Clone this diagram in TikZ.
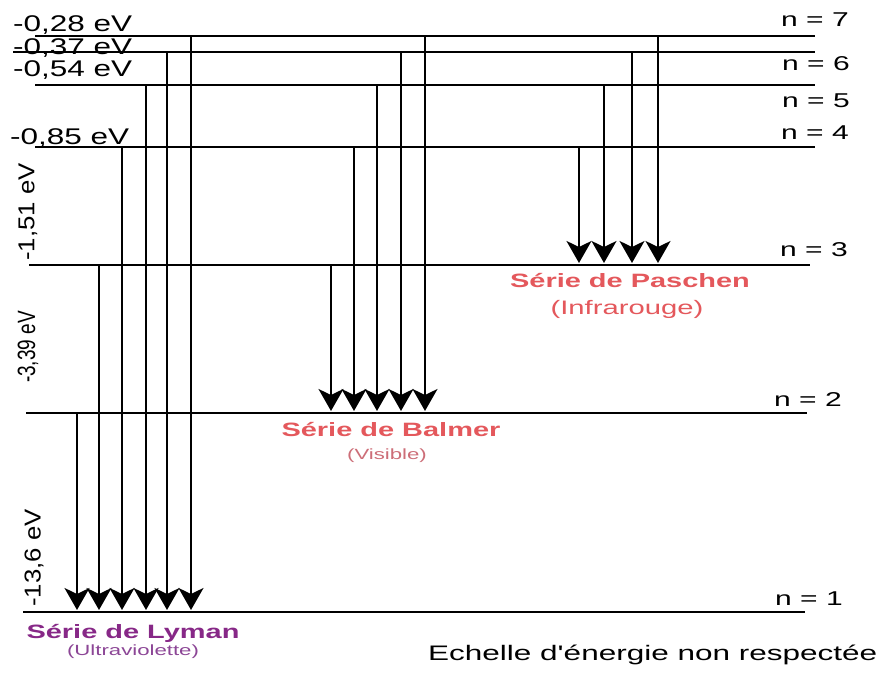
\documentclass[tikz,border=0pt]{standalone}
\usepackage{fontspec}
\usepackage{graphicx}
\setmainfont{Liberation Sans}
\newfontfamily\lab[FakeStretch=1.5]{Liberation Sans}
\usetikzlibrary{arrows.meta}
\definecolor{salmon}{RGB}{228,88,92}
\definecolor{salmonlt}{RGB}{205,110,120}
\definecolor{lymc}{RGB}{135,40,135}
\definecolor{lymlt}{RGB}{140,70,150}
\begin{document}
\begin{tikzpicture}[x=1pt,y=-1pt,
  level/.style={line width=1.8pt},
  trans/.style={line width=2pt,-{Stealth[length=22pt,width=25pt,inset=6pt]}},
  elab/.style={anchor=base west,inner sep=0pt,font=\lab\fontsize{21}{21}\selectfont},
  nlab/.style={anchor=base east,inner sep=0pt,font=\lab\fontsize{20}{20}\selectfont},
  vlab/.style={rotate=90,inner sep=0pt,font=\fontsize{23}{23}\selectfont},
  sertitle/.style={anchor=base,inner sep=0pt,font=\lab\bfseries\fontsize{19.3}{19.3}\selectfont},
  sersub/.style={anchor=base,inner sep=0pt,font=\lab\fontsize{14.8}{14.8}\selectfont}]
\useasboundingbox[fill=white] (0,0) rectangle (876,684);
% levels
\coordinate (n7a) at (35,36);  \coordinate (n7b) at (815,36);
\coordinate (n6a) at (13,52);  \coordinate (n6b) at (815,52);
\coordinate (n5a) at (35,85);  \coordinate (n5b) at (815,85);
\coordinate (n4a) at (35,147); \coordinate (n4b) at (815,147);
\coordinate (n3a) at (29,265); \coordinate (n3b) at (810,265);
\coordinate (n2a) at (26,413); \coordinate (n2b) at (807,413);
\coordinate (n1a) at (23,612); \coordinate (n1b) at (805,612);
\foreach \n in {7,6,5,4,3,2,1} \draw[level] (n\n a) -- (n\n b);
% Lyman
\foreach \x/\y in {77/413,99/265,122/147,146/85,167/52,191/36}
  \draw[trans] (\x,\y) -- (\x,610);
% Balmer
\foreach \x/\y in {331/265,354/147,377/85,401/52,425/36}
  \draw[trans] (\x,\y) -- (\x,411);
% Paschen
\foreach \x/\y in {579/147,604/85,632/52,658/36}
  \draw[trans] (\x,\y) -- (\x,263);
% energy labels
\node[elab] (e7) at (13,32) {\scalebox{1}[1.08]{-0,28 eV}};
\node[elab] (e6) at (13,55) {\scalebox{1}[1.08]{-0,37 eV}};
\node[elab] (e5) at (13,77) {\scalebox{1}[1.08]{-0,54 eV}};
\node[elab] (e4) at (10,145) {\scalebox{1}[1.08]{-0,85 eV}};
\node[vlab] (e3) at (28,212) {\scalebox{1.12}[1]{-1,51 eV}};
\node[vlab,font=\fontsize{25}{25}\selectfont] (e2) at (28,347) {\scalebox{0.76}[1]{-3,39 eV}};
\node[vlab] (e1) at (34,558) {\scalebox{1.12}[1]{-13,6 eV}};
% n labels
\node[nlab] (l7) at (849,27) {n = 7};
\node[nlab] (l6) at (850,71) {n = 6};
\node[nlab] (l5) at (850,108) {n = 5};
\node[nlab] (l4) at (849,140) {n = 4};
\node[nlab] (l3) at (848,257) {n = 3};
\node[nlab] (l2) at (842,407) {n = 2};
\node[nlab] (l1) at (843,605) {n = 1};
% series
\node[sertitle,text=salmon] (pt) at (630,288) {Série de Paschen};
\node[anchor=base,inner sep=0pt,font=\lab\fontsize{19.5}{19.5}\selectfont,text=salmon] (ps) at (627,315) {(Infrarouge)};
\node[sertitle,text=salmon] (bt) at (391,437) {Série de Balmer};
\node[sersub,text=salmonlt] (bs) at (387,460) {(Visible)};
\node[sertitle,text=lymc] (lt) at (133,638) {Série de Lyman};
\node[sersub,text=lymlt] (ls) at (133,655) {(Ultraviolette)};
\node[elab] (note) at (428,660) {Echelle d'énergie non respectée};
\end{tikzpicture}
\end{document}
